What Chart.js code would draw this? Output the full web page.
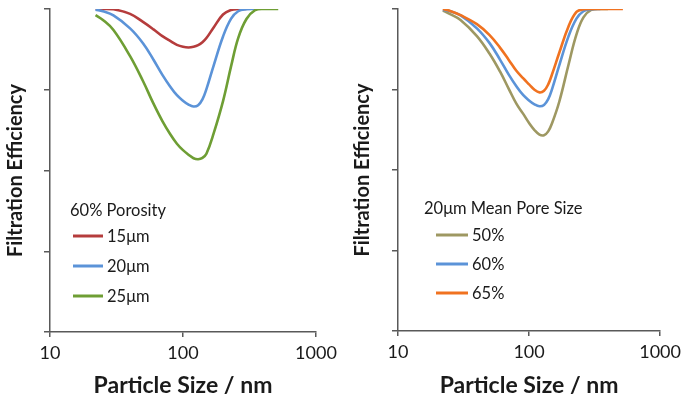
<!DOCTYPE html>
<html>
<head>
<meta charset="utf-8">
<script src="https://cdn.jsdelivr.net/npm/chart.js@4"></script>
<style>
  html, body { margin: 0; padding: 0; background: #fff; }
  .panel { position: absolute; top: 0; width: 343px; height: 403px; }
</style>
</head>
<body>
<div class="panel" style="left:0"><canvas id="left" width="343" height="403"></canvas></div>
<div class="panel" style="left:343px"><canvas id="right" width="343" height="403"></canvas></div>
<script>
// tick values (y labels are hidden in the original)
const xTickValues = [10, 100, 1000]
const yTickValues = [0, 25, 50, 75, 100]

// particle sizes in nm, shared by every curve
const sizes = [22, 25, 30, 40, 50, 60, 70, 80, 90, 100, 110, 120, 130, 140, 150, 170, 200, 230, 260, 300, 350, 400, 520]

// left panel: 60% porosity, different mean pore size
const leftTitle = '60% Porosity'
const leftLabels = ['15μm', '20μm', '25μm']
const pore15 = [100, 100, 99.9, 98.5, 96.0, 93.7, 91.6, 90.1, 88.9, 88.3, 88.1, 88.3, 88.8, 89.7, 91.0, 94.3, 98.3, 99.7, 100, 100]
const pore20 = [99.8, 99.3, 98.0, 94.0, 89.4, 84.3, 79.6, 76.0, 73.3, 71.6, 70.4, 69.8, 70.2, 72.0, 75.2, 82.5, 91.5, 97.0, 99.3, 99.9, 100]
const pore25 = [98.1, 96.6, 93.5, 85.4, 77.7, 70.7, 65.3, 61.3, 58.3, 56.3, 54.9, 53.8, 53.5, 53.9, 55.2, 61.5, 71.5, 82.3, 91.0, 96.9, 99.7, 100, 100]

// right panel: 20um mean pore size, different porosity
const rightTitle = '20μm Mean Pore Size'
const rightLabels = ['50%', '60%', '65%']
const poro50 = [99.5, 98.4, 96.6, 91.6, 86.1, 80.6, 75.2, 70.6, 67.5, 64.6, 62.4, 61.0, 60.8, 62.0, 64.6, 71.2, 82.7, 92.1, 97.4, 99.8, 100, 100]
const poro60 = pore20
const poro65 = [100, 99.4, 98.1, 95.3, 91.9, 88.0, 84.2, 80.8, 78.5, 76.6, 74.9, 74.1, 74.6, 76.6, 79.8, 86.4, 94.6, 99.1, 99.9, 100, 100, 100, 100]

const textColor = '#1a1a1a'
const axisColor = '#595959'

function toPoints(values) {
    return values.map((v, i) => ({ x: sizes[i], y: v }))
}

// legend drawn inside the plot area, like the excel one
const insideLegend = {
    id: 'insideLegend',
    afterDraw(chart, args, opts) {
        const ctx = chart.ctx
        ctx.save()
        ctx.textBaseline = 'middle'
        ctx.textAlign = 'left'
        ctx.font = '16.5px Lato'
        ctx.fillStyle = textColor
        ctx.fillText(opts.title, opts.titleX, opts.titleY)
        chart.data.datasets.forEach((ds, i) => {
            const y = opts.firstY + i * opts.gap
            ctx.strokeStyle = ds.borderColor
            ctx.lineWidth = 3
            ctx.beginPath()
            ctx.moveTo(opts.lineX, y)
            ctx.lineTo(opts.lineX + opts.lineLen, y)
            ctx.stroke()
            ctx.fillText(ds.label, opts.lineX + opts.lineLen + 4, y + 1)
        })
        ctx.restore()
    }
}

function makeChart(id, datasets, box, legend) {
    return new Chart(document.getElementById(id), {
        type: 'line',
        data: { datasets: datasets },
        plugins: [insideLegend],
        options: {
            responsive: false,
            animation: false,
            devicePixelRatio: 1,
            layout: { padding: { left: 0, right: box.right, top: 9, bottom: 0 } },
            elements: {
                point: { radius: 0 },
                line: { borderWidth: 2.6, tension: 0.4 }
            },
            plugins: {
                legend: { display: false },
                tooltip: { enabled: false },
                insideLegend: legend
            },
            scales: {
                x: {
                    type: 'logarithmic',
                    min: 10,
                    max: 1000,
                    afterBuildTicks: axis => { axis.ticks = xTickValues.map(v => ({ value: v })) },
                    afterFit: axis => { axis.height = box.xHeight },
                    ticks: {
                        callback: v => String(v),
                        font: { family: 'Lato', size: 18 },
                        color: textColor,
                        padding: 5,
                        maxRotation: 0,
                        autoSkip: false
                    },
                    grid: { drawOnChartArea: false, tickLength: 5, color: axisColor, lineWidth: 1.5 },
                    border: { color: axisColor, width: 1.5 },
                    title: {
                        display: true,
                        text: 'Particle Size / nm',
                        font: { family: 'Lato', size: 23, weight: 'bold' },
                        color: textColor,
                        padding: { top: 0, bottom: 4 }
                    }
                },
                y: {
                    min: 0,
                    max: 100,
                    afterBuildTicks: axis => { axis.ticks = yTickValues.map(v => ({ value: v })) },
                    afterFit: axis => { axis.width = box.yWidth },
                    ticks: { display: false },
                    grid: { drawOnChartArea: false, tickLength: 6, color: axisColor, lineWidth: 1.5 },
                    border: { color: axisColor, width: 1.5 },
                    title: {
                        display: true,
                        text: 'Filtration Efficiency',
                        font: { family: 'Lato', size: 20, weight: 'bold' },
                        color: textColor,
                        padding: { top: box.titleGap, bottom: 0 }
                    }
                }
            }
        }
    })
}

makeChart('left', [
    { label: leftLabels[0], data: toPoints(pore15), borderColor: '#b53c3c', order: 3 },
    { label: leftLabels[1], data: toPoints(pore20), borderColor: '#5b93d8', order: 2 },
    { label: leftLabels[2], data: toPoints(pore25), borderColor: '#6e9e34', order: 1 }
], { right: 27, xHeight: 71, yWidth: 50, titleGap: 4 },
   { title: leftTitle, titleX: 70, titleY: 211, lineX: 73, lineLen: 30, firstY: 236, gap: 30 })

makeChart('right', [
    { label: rightLabels[0], data: toPoints(poro50), borderColor: '#9e9862', order: 3 },
    { label: rightLabels[1], data: toPoints(poro60), borderColor: '#5b93d8', order: 2 },
    { label: rightLabels[2], data: toPoints(poro65), borderColor: '#f07220', order: 1 }
], { right: 21, xHeight: 72, yWidth: 55, titleGap: 8 },
   { title: rightTitle, titleX: 81, titleY: 209, lineX: 93, lineLen: 32, firstY: 235, gap: 29 })
</script>
</body>
</html>
